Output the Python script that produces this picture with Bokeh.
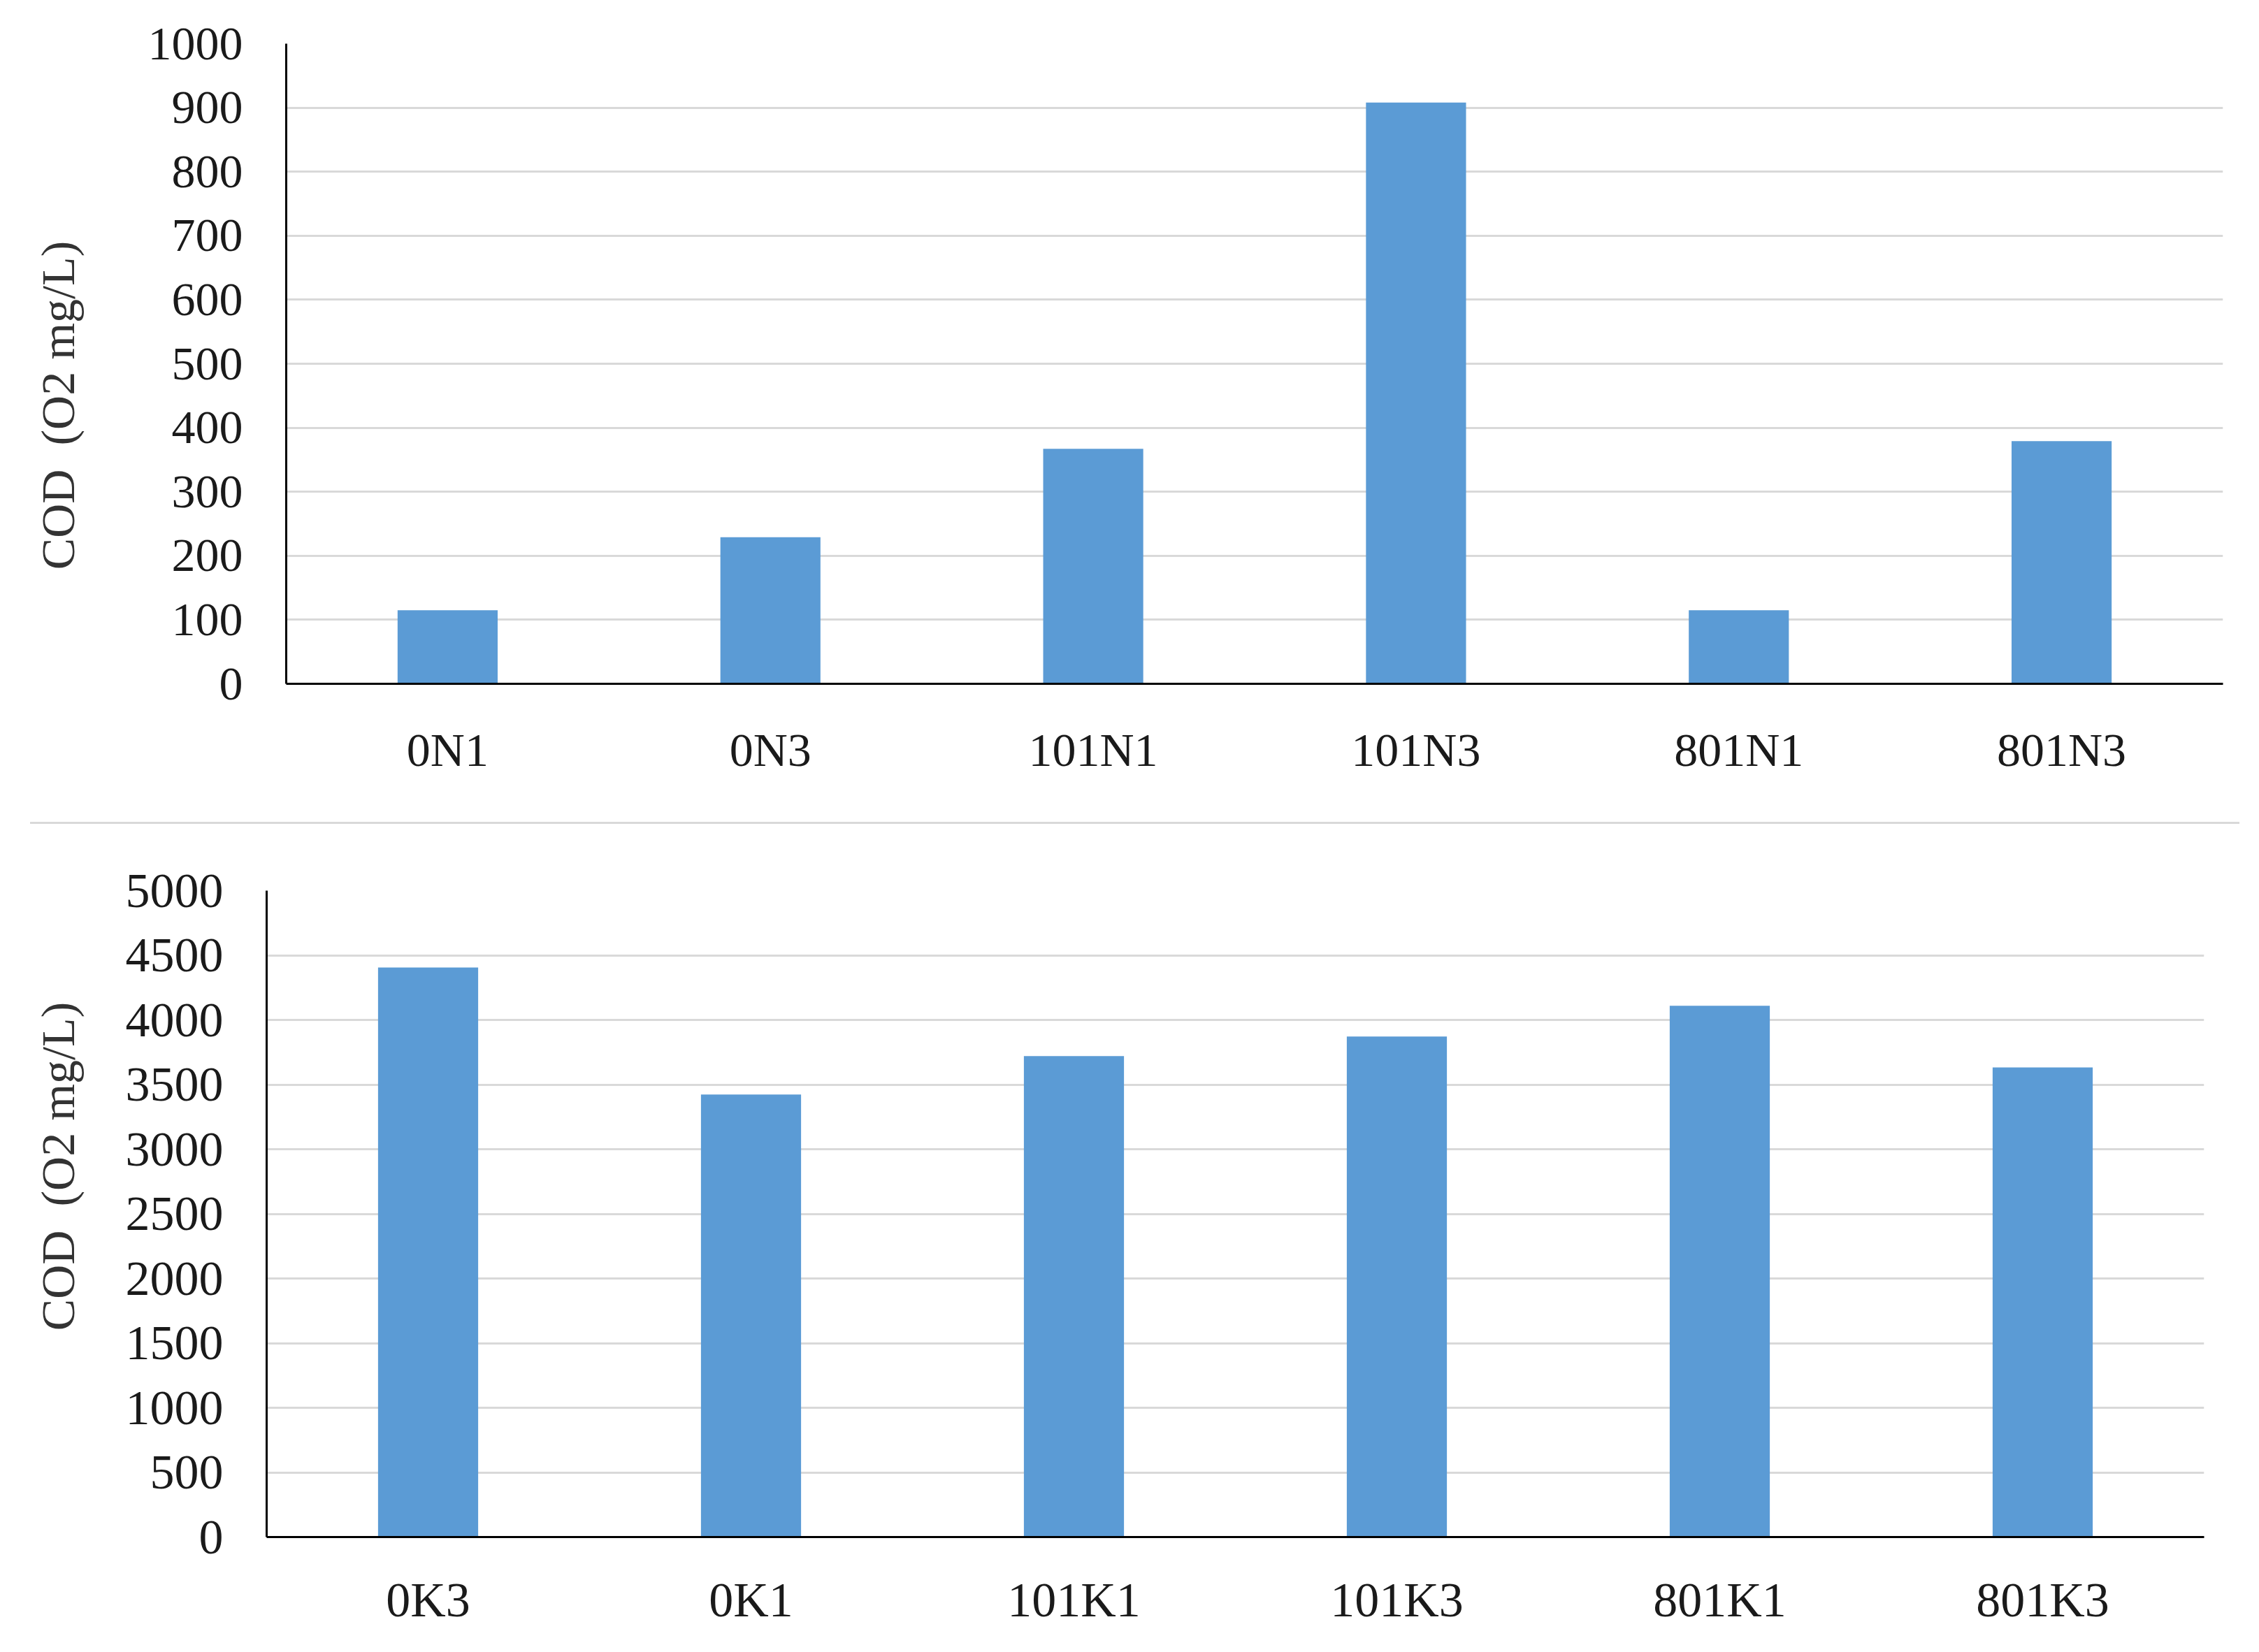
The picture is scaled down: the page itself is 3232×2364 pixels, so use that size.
from bokeh.plotting import figure
from bokeh.models import Range1d, FactorRange, Div, FixedTicker
from bokeh.layouts import column, row
from bokeh.embed import file_html
from bokeh.resources import INLINE

# ---- data ----
top_categories = ["0N1", "0N3", "101N1", "101N3", "801N1", "801N3"]
top_values = [115, 229, 367, 908, 115, 379]
top_ticks = [0, 100, 200, 300, 400, 500, 600, 700, 800, 900, 1000]

bottom_categories = ["0K3", "0K1", "101K1", "101K3", "801K1", "801K3"]
bottom_values = [4406, 3423, 3720, 3871, 4109, 3632]
bottom_ticks = [0, 500, 1000, 1500, 2000, 2500, 3000, 3500, 4000, 4500, 5000]

y_label = "COD\u00a0\u00a0(O2 mg/L)"

BAR = "#5B9BD5"
GRID = "#D9D9D9"
FONT = "Liberation Serif"
NB = "\u00a0"


def make_chart(cats, vals, ticks, ymax, width, height, left, right, top, bottom,
               font_px, label_standoff, xlabel_standoff, label_text):
    p = figure(
        x_range=FactorRange(*cats, range_padding=0),
        y_range=Range1d(0, ymax),
        width=width, height=height,
        output_backend="svg", toolbar_location=None,
        min_border_left=left, min_border_right=right,
        min_border_top=top, min_border_bottom=bottom,
    )
    p.vbar(x=cats, top=vals, width=0.31, color=BAR, line_color=None)
    p.outline_line_color = None
    p.background_fill_color = "white"
    p.border_fill_color = "white"
    p.xgrid.grid_line_color = None
    p.ygrid.grid_line_color = GRID
    p.ygrid.grid_line_width = 3

    p.yaxis.ticker = FixedTicker(ticks=ticks)
    for ax in (p.xaxis[0], p.yaxis[0]):
        ax.axis_line_color = "black"
        ax.axis_line_width = 3
        ax.major_tick_line_color = None
        ax.minor_tick_line_color = None
        ax.major_tick_out = 0
        ax.major_tick_in = 0
        ax.major_label_text_font = FONT
        ax.major_label_text_font_size = f"{font_px}px"
        ax.major_label_text_color = "#1a1a1a"
    p.yaxis.major_label_standoff = 62
    p.xaxis.major_label_standoff = xlabel_standoff
    p.yaxis.axis_label = label_text
    p.yaxis.axis_label_text_font = FONT
    p.yaxis.axis_label_text_font_style = "normal"
    p.yaxis.axis_label_text_font_size = "68px"
    p.yaxis.axis_label_text_color = "#333333"
    p.yaxis.axis_label_standoff = label_standoff
    return p


# label padded with non-breaking spaces so its visible part sits off-centre as in the original
p1 = make_chart(top_categories, top_values, top_ticks, 1000,
                width=3220, height=1176, left=409, right=40, top=62, bottom=198,
                font_px=68, label_standoff=88, xlabel_standoff=56,
                label_text=y_label + NB * 7)

sep = Div(text="", width=3161, height=3, margin=(0, 0, 0, 43),
          styles={"background-color": GRID})

p2 = make_chart(bottom_categories, bottom_values, bottom_ticks, 5000,
                width=3220, height=1180, left=381, right=67, top=95, bottom=160,
                font_px=70, label_standoff=56, xlabel_standoff=51,
                label_text=NB * 8 + y_label)

layout = column(row(p1), sep, row(p2), spacing=0)

open("out.html", "w").write(file_html(layout, INLINE))
